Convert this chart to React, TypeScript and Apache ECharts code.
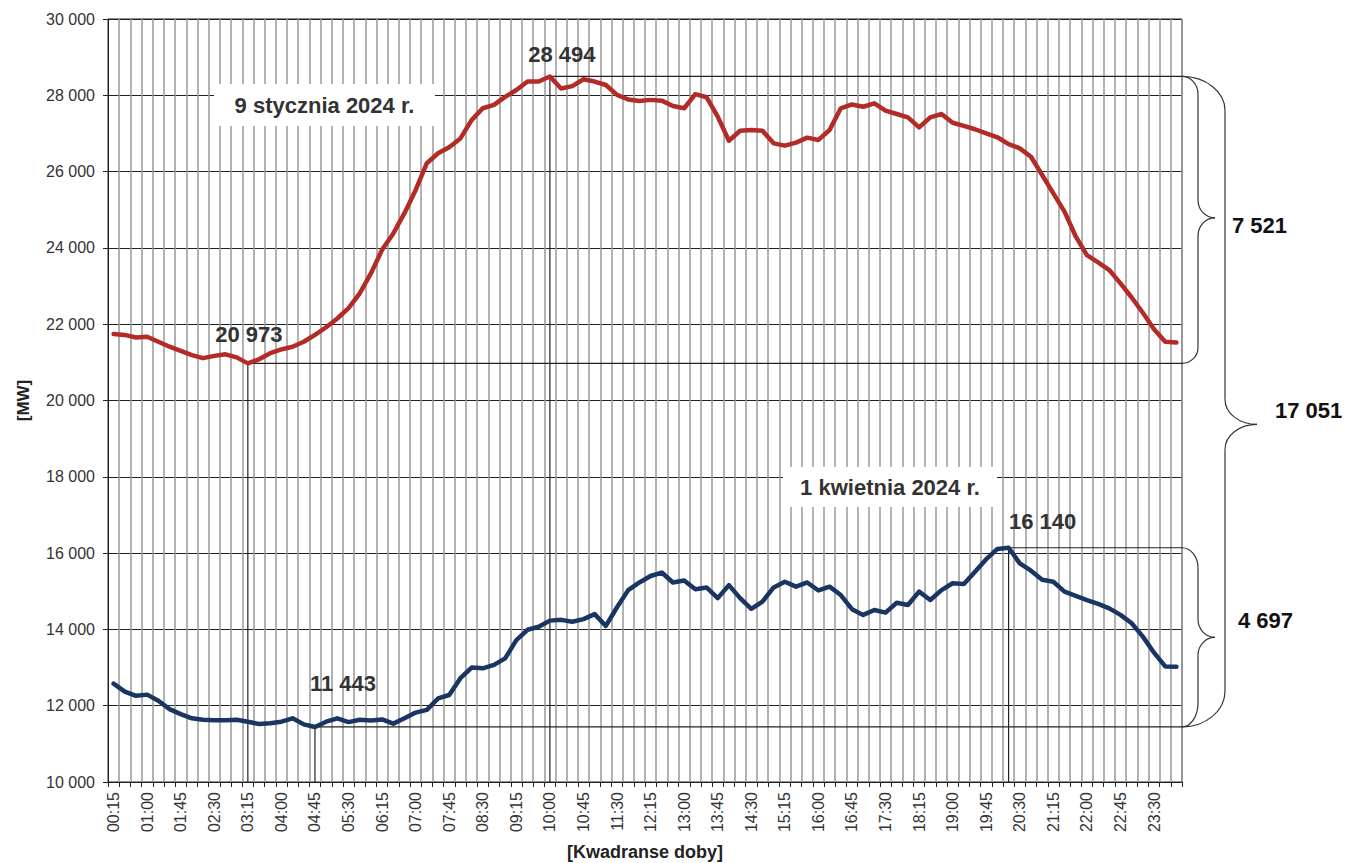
import React, { useEffect, useRef } from "react";
import * as echarts from "echarts";

const categories = [
  "00:15","00:30","00:45","01:00","01:15","01:30","01:45","02:00","02:15","02:30","02:45","03:00",
  "03:15","03:30","03:45","04:00","04:15","04:30","04:45","05:00","05:15","05:30","05:45","06:00",
  "06:15","06:30","06:45","07:00","07:15","07:30","07:45","08:00","08:15","08:30","08:45","09:00",
  "09:15","09:30","09:45","10:00","10:15","10:30","10:45","11:00","11:15","11:30","11:45","12:00",
  "12:15","12:30","12:45","13:00","13:15","13:30","13:45","14:00","14:15","14:30","14:45","15:00",
  "15:15","15:30","15:45","16:00","16:15","16:30","16:45","17:00","17:15","17:30","17:45","18:00",
  "18:15","18:30","18:45","19:00","19:15","19:30","19:45","20:00","20:15","20:30","20:45","21:00",
  "21:15","21:30","21:45","22:00","22:15","22:30","22:45","23:00","23:15","23:30","23:45","24:00",
];

// 9 stycznia 2024 r.
const january = [
  21740, 21720, 21650, 21670, 21540, 21410, 21300, 21190, 21110, 21170, 21210, 21130,
  20973, 21080, 21240, 21340, 21410, 21540, 21720, 21920, 22150, 22420, 22810, 23330,
  23950, 24380, 24910, 25520, 26220, 26480, 26640, 26870, 27350, 27660, 27750, 27960,
  28140, 28360, 28360, 28494, 28180, 28240, 28420, 28360, 28270, 28010, 27890, 27850,
  27880, 27860, 27720, 27660, 28030, 27950, 27440, 26810, 27070, 27090, 27070, 26740,
  26680, 26760, 26890, 26830, 27090, 27660, 27760, 27700, 27790, 27600, 27510, 27420,
  27160, 27420, 27510, 27280, 27200, 27110, 27000, 26900, 26720, 26610, 26390, 25910,
  25430, 24950, 24300, 23810, 23620, 23420, 23070, 22700, 22300, 21870, 21540, 21520,
];

// 1 kwietnia 2024 r.
const april = [
  12580, 12370, 12260, 12290, 12130, 11910, 11780, 11670, 11630, 11620, 11620, 11630,
  11580, 11520, 11540, 11580, 11670, 11510, 11443, 11580, 11670, 11570, 11630, 11610,
  11640, 11530, 11670, 11820, 11890, 12190, 12280, 12720, 13000, 12980, 13070, 13240,
  13720, 13990, 14070, 14230, 14250, 14200, 14270, 14400, 14090, 14580, 15030, 15230,
  15400, 15490, 15230, 15280, 15050, 15100, 14820, 15160, 14820, 14540, 14730, 15100,
  15250, 15120, 15230, 15020, 15120, 14900, 14530, 14380, 14510, 14440, 14700, 14640,
  14990, 14770, 15030, 15210, 15190, 15510, 15840, 16110, 16140, 15730, 15540, 15300,
  15250, 14990, 14880, 14770, 14670, 14550, 14380, 14160, 13810, 13390, 13030, 13020,
];

const seriesNames = ["9 stycznia 2024 r.", "1 kwietnia 2024 r."];
const yMin = 10000;
const yMax = 30000;
const yInterval = 2000;

const FONT = "'Liberation Sans', Arial, Helvetica, sans-serif";
const W = 1347;
const H = 863;
const GRID = { left: 108, top: 19, right: 165, bottom: 81 };

function fmt(v: number): string {
  return String(v).replace(/\B(?=(\d{3})+(?!\d))/g, " ");
}

const K = 0.5523;
function brace(xs: number, xv: number, xt: number, yTop: number, yBot: number, ym: number, r: number, r2: number, rb: number) {
  const st = { stroke: "#333", lineWidth: 1.2, fill: null as any };
  const dx = xv - xs;
  const dt = xt - xv;
  const base = { silent: true, z: 5, style: st };
  return [
    { type: "bezierCurve", ...base, shape: { x1: xs, y1: yTop, cpx1: xs + K * dx, cpy1: yTop, cpx2: xv, cpy2: yTop + r - K * r, x2: xv, y2: yTop + r } },
    { type: "line", ...base, shape: { x1: xv, y1: yTop + r, x2: xv, y2: ym - r2 } },
    { type: "bezierCurve", ...base, shape: { x1: xv, y1: ym - r2, cpx1: xv, cpy1: ym - r2 + K * r2, cpx2: xt - K * dt, cpy2: ym, x2: xt, y2: ym } },
    { type: "bezierCurve", ...base, shape: { x1: xt, y1: ym, cpx1: xt - K * dt, cpy1: ym, cpx2: xv, cpy2: ym + r2 - K * r2, x2: xv, y2: ym + r2 } },
    { type: "line", ...base, shape: { x1: xv, y1: ym + r2, x2: xv, y2: yBot - rb } },
    { type: "bezierCurve", ...base, shape: { x1: xv, y1: yBot - rb, cpx1: xv, cpy1: yBot - rb + K * rb, cpx2: xs + K * dx, cpy2: yBot, x2: xs, y2: yBot } },
  ];
}

export default function App() {
  const ref = useRef<HTMLDivElement>(null);

  useEffect(() => {
    const chart = echarts.init(ref.current!, null, { renderer: "svg" });
    const option: any = {
      animation: false,
      backgroundColor: "#fff",
      textStyle: { fontFamily: FONT },
      grid: {
        left: GRID.left,
        top: GRID.top,
        right: GRID.right,
        bottom: GRID.bottom,
        containLabel: false,
        outerBoundsMode: "none",
        show: true,
        borderColor: "#222",
        borderWidth: 1,
        backgroundColor: "transparent",
      },
      xAxis: {
        type: "category",
        data: categories,
        boundaryGap: true,
        name: "[Kwadranse doby]",
        nameLocation: "middle",
        nameGap: 61,
        nameTextStyle: { fontFamily: FONT, fontSize: 18, fontWeight: "bold", color: "#222" },
        axisLine: { show: true, lineStyle: { color: "#222", width: 1 } },
        axisTick: { show: true, interval: 0, length: 5, lineStyle: { color: "#222" } },
        axisLabel: {
          interval: 2,
          rotate: 90,
          margin: 10,
          fontFamily: FONT,
          fontSize: 16,
          color: "#333",
        },
        splitLine: { show: true, interval: 0, lineStyle: { color: "#999", width: 1.5 } },
      },
      yAxis: {
        type: "value",
        min: yMin,
        max: yMax,
        interval: yInterval,
        name: "[MW]",
        nameLocation: "middle",
        nameRotate: 90,
        nameGap: 76,
        nameTextStyle: { fontFamily: FONT, fontSize: 17, fontWeight: "bold", color: "#222" },
        axisLine: { show: true, lineStyle: { color: "#222", width: 1 } },
        axisTick: { show: true, length: 5, lineStyle: { color: "#222" } },
        axisLabel: {
          margin: 13,
          fontFamily: FONT,
          fontSize: 16,
          color: "#333",
          formatter: (v: number) => fmt(v),
        },
        splitLine: { show: true, lineStyle: { color: "#222", width: 1 } },
      },
      series: [
        {
          name: seriesNames[0],
          type: "line",
          data: january,
          symbol: "none",
          z: 4,
          lineStyle: { color: "#b32b27", width: 4.5, join: "round", cap: "round" },
        },
        {
          name: seriesNames[1],
          type: "line",
          data: april,
          symbol: "none",
          z: 4,
          lineStyle: { color: "#1b3563", width: 4.5, join: "round", cap: "round" },
        },
      ],
    };
    chart.setOption(option);

    const P = (i: number, v: number) =>
      chart.convertToPixel({ xAxisIndex: 0, yAxisIndex: 0 }, [i, v]) as number[];
    const xRight = W - GRID.right;
    const yBottom = P(0, yMin)[1];

    const janMax = Math.max(...january);
    const janMin = Math.min(...january);
    const aprMax = Math.max(...april);
    const aprMin = Math.min(...april);
    const pJanMax = P(january.indexOf(janMax), janMax);
    const pJanMin = P(january.indexOf(janMin), janMin);
    const pAprMax = P(april.indexOf(aprMax), aprMax);
    const pAprMin = P(april.indexOf(aprMin), aprMin);

    const refStyle = { stroke: "#222", lineWidth: 1.2 };
    const elements: any[] = [];
    [pJanMax, pJanMin, pAprMax, pAprMin].forEach((p) => {
      elements.push({ type: "line", silent: true, z: 3, shape: { x1: p[0], y1: p[1], x2: p[0], y2: yBottom }, style: refStyle });
      elements.push({ type: "line", silent: true, z: 3, shape: { x1: p[0], y1: p[1], x2: xRight, y2: p[1] }, style: refStyle });
    });

    const valueText = (txt: string, x: number, y: number) => ({
      type: "text",
      silent: true,
      z: 6,
      x,
      y,
      style: {
        text: txt,
        fill: "#333",
        font: `bold 22px ${FONT}`,
        align: "center",
        verticalAlign: "middle",
      },
    });
    elements.push(valueText(fmt(janMax), pJanMax[0] + 12, pJanMax[1] - 22));
    elements.push(valueText(fmt(janMin), pJanMin[0] + 1, pJanMin[1] - 29));
    elements.push(valueText(fmt(aprMin), pAprMin[0] + 28, pAprMin[1] - 43));
    elements.push(valueText(fmt(aprMax), pAprMax[0] + 34, pAprMax[1] - 26));

    const nameBox = (txt: string, x: number, y: number, w: number, h: number) => [
      { type: "rect", silent: true, z: 6, shape: { x, y, width: w, height: h }, style: { fill: "#fff" } },
      {
        type: "text",
        silent: true,
        z: 7,
        x: x + w / 2,
        y: y + h / 2,
        style: { text: txt, fill: "#333", font: `bold 22px ${FONT}`, align: "center", verticalAlign: "middle" },
      },
    ];
    elements.push(...nameBox(seriesNames[0], 214, 84, 221, 42));
    elements.push(...nameBox(seriesNames[1], 783, 467, 214, 40));

    const inner1Top = pJanMax[1];
    const inner1Bot = pJanMin[1];
    const ym1 = (inner1Top + inner1Bot) / 2 - 2;
    elements.push(...brace(xRight, xRight + 16, xRight + 33, inner1Top, inner1Bot, ym1, 18, 18, 16));
    const ymOuter = inner1Top + 0.535 * (pAprMin[1] - inner1Top);
    elements.push(...brace(xRight, xRight + 43, xRight + 75, inner1Top, pAprMin[1], ymOuter, 34, 25, 36));
    const ym3 = (pAprMax[1] + pAprMin[1]) / 2;
    elements.push(...brace(xRight, xRight + 16, xRight + 33, pAprMax[1], pAprMin[1], ym3, 20, 18, 24));

    const diffText = (txt: string, x: number, y: number) => ({
      type: "text",
      silent: true,
      z: 6,
      x,
      y,
      style: { text: txt, fill: "#111", font: `bold 22px ${FONT}`, align: "left", verticalAlign: "middle" },
    });
    elements.push(diffText(fmt(janMax - janMin), xRight + 50, ym1 + 8));
    elements.push(diffText(fmt(janMax - aprMin), xRight + 93, ymOuter - 14));
    elements.push(diffText(fmt(aprMax - aprMin), xRight + 56, ym3 - 17));

    chart.setOption({ graphic: { elements } });

    return () => chart.dispose();
  }, []);

  return (
    <div
      ref={ref}
      style={{ position: "absolute", left: 0, top: 0, width: W, height: H, background: "#fff" }}
    />
  );
}
